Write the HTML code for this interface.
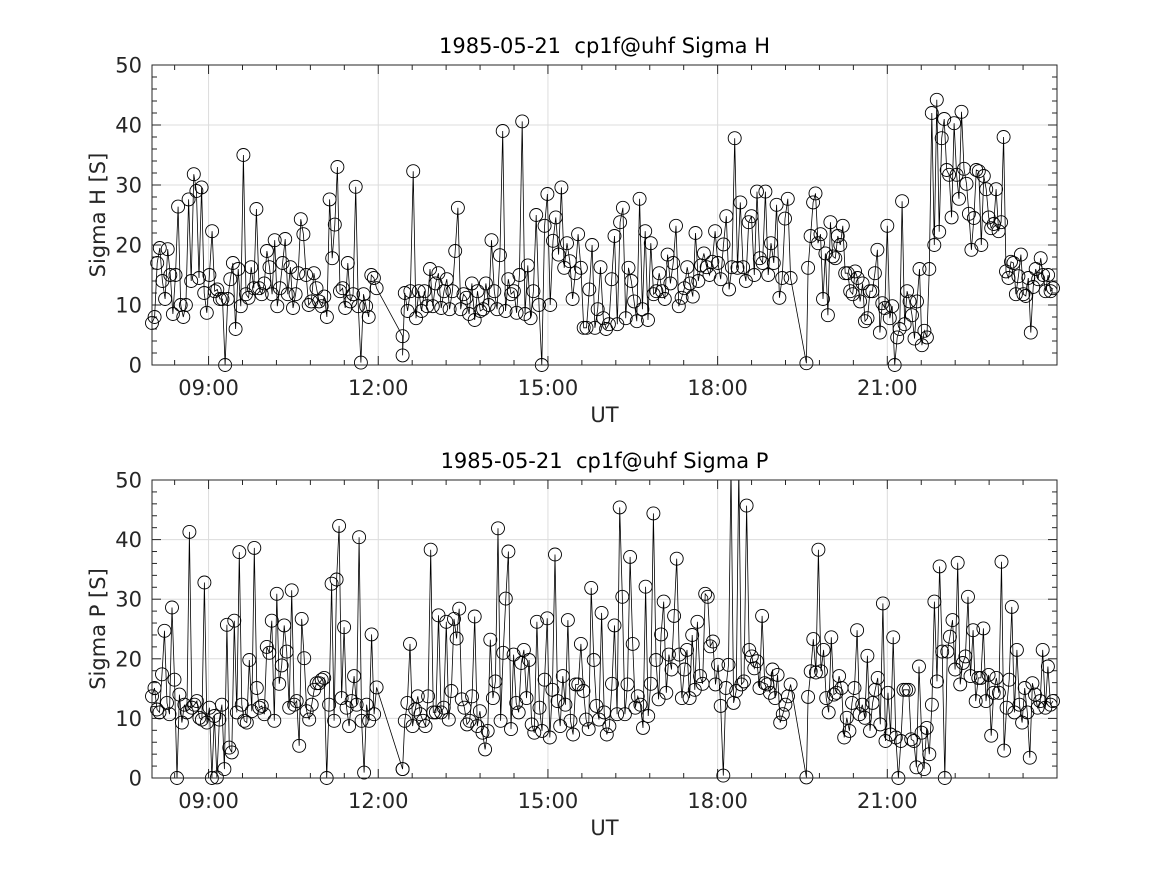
<!DOCTYPE html>
<html><head><meta charset="utf-8"><style>
body{margin:0;background:#fff;}
svg{display:block;font-family:"DejaVu Sans","Liberation Sans",sans-serif;}
</style></head><body>
<svg id="chart" width="1167" height="875" viewBox="0 0 1167 875">
<rect width="1167" height="875" fill="#fff"/>
</svg>
<script>
// ---- data ----
const xTickHours = [9, 12, 15, 18, 21];
const xTickLabels = ["09:00", "12:00", "15:00", "18:00", "21:00"];
const yTickValues = [0, 10, 20, 30, 40, 50];
const titles = ["1985-05-21  cp1f@uhf Sigma H", "1985-05-21  cp1f@uhf Sigma P"];
const yLabels = ["Sigma H [S]", "Sigma P [S]"];
// segment time bounds (hours UT): [start, end]
const hSegA = [8.0, 11.97];
const hSegGap = [12.43, 12.43];
const hSegB = [12.47, 19.29];
const hSegDrop = [19.57, 19.57];
const hSegC = [19.6, 23.93];
const hValsA = [7,8,17,19.5,14,11,19.3,15,8.5,15,26.4,10,8,10,27.6,14,31.8,29,14.5,29.6,12,8.7,15,22.3,12.3,12.6,11,11,0,11,14.3,17,6,16,9.8,35,11.8,11.2,16.3,12.8,26,12.8,11.8,13.6,19,16.3,11.8,20.8,9.8,12.8,17,21,11.8,16.3,9.5,11.8,15.3,24.3,21.8,15,10,10.6,15.3,12.8,10.6,9.8,11.4,8,27.6,17.8,23.4,33,12.3,12.8,9.5,17,10.6,11.8,29.7,9.8,0.4,11.8,9.8,8,15,14.5,12.8];
const hValsGap = [4.8,1.6];
const hValsB = [12,9,12.3,32.3,7.8,12.3,9,12.3,9.8,16,9.8,13.6,15.3,9.5,12.3,14.3,9.3,12.3,19,26.2,9.3,11.8,11.2,8.5,13.6,7.5,12.3,9,9.3,13.6,10,20.8,12.3,9.3,18.3,39,9,14.3,11.8,12.3,8.7,15,40.6,8.5,16.6,7.8,12.3,25,10,0,23.2,28.5,10,20.7,24.6,18.4,29.6,16.2,20.3,17.3,11,15.3,21.8,16.2,6.2,
6.2,12.6,20,6.2,9.3,16.3,7.8,6,6.8,14.3,21.5,6.8,23.8,26.2,7.8,16.2,14,10.6,7.3,27.7,9.3,22.3,7.5,20.3,11.8,12.3,15.3,12.3,11,18.4,13.6,17,23.2,9.8,11.2,12.8,16.3,13.6,11.4,22,14,16.6,18.6,16.3,15,17.2,22.3,17,14.3,20.1,24.8,12.6,16.3,37.8,16.2,27.1,16.3,14,23.8,24.8,15,28.9,17.8,17,28.9,15,20.3,17,26.7,11.2,14.5,24.4,27.7,14.5];
const hValsDrop = [0.3];
const hValsC = [16.2,21.5,27.1,28.6,20.3,21.8,11,18.6,8.3,23.8,18.1,17.8,21.5,20,23.2,15.3,15.3,12.3,11.8,15.6,14.5,10.6,13.6,7.3,7.8,12.3,12.3,15.3,19.2,5.4,10.3,9.5,23.2,7.8,9.8,0,4.6,6,27.3,6.8,12.3,10.6,8.3,4.4,10.6,16,3.3,5.7,4.6,16,42,20,44.2,22.2,37.8,41,32.5,31.7,24.6,40.3,31.7,27.7,42.2,32.7,30.2,25.2,19.2,24.5,32.5,32.3,20,31.5,29.3,24.6,22.8,23.5,29.3,22.3,23.8,38,15.6,14.5,17.2,17,11.8,14.8,18.4,11.8,11.5,14.5,5.4,13,16,14.3,17.8,15,12.3,15,12.3,12.8];
const pValsA = [13.7,15.1,11.5,11,17.4,24.7,12.6,10.7,28.6,16.5,0,14,9.3,12.3,11,41.3,11.8,12.3,12.9,10.1,9.8,32.8,9.3,11.8,0,10.4,0.1,9.8,12.3,1.5,25.7,5.1,4.3,26.4,11,37.9,12.3,9.6,9.3,19.8,11.2,38.6,15.1,11.8,12.1,10.7,22,21,26.4,9.6,30.9,15.8,18.9,25.6,21.2,11.8,31.5,12.3,12.9,5.4,26.7,20.1,11.2,9.8,12.3,14.8,15.9,15.9,16.5,16.8,0,12.3,32.6,9.6,33.3,42.3,13.4,25.3,11.8,8.7,12.9,17.1,12.3,40.4,9.6,0.9,12.3,9.6,24.1,10.7,15.2];
const pValsGap = [1.5,1.5];
const pValsB = [9.6,12.6,22.5,8.7,11.5,13.7,10.7,9.6,8.7,13.7,38.3,11,11,27.3,11,11.8,26.2,9.8,14.6,26.7,23.4,28.4,13.2,11.8,9,9.6,13.7,27.1,8.7,11.2,7.6,4.8,7.9,23.2,13.4,16.2,41.9,9.6,21,30.1,38,8.2,20.7,12.6,11,19.3,21.5,13.4,19.8,9,7.6,26.2,11.8,7.9,16.5,26.8,6.8,14.8,37.5,12.9,8.7,17.1,12.3,26.5,9.6,7.3,15.7,15.7,22.5,14.6,9.8,
8.2,31.9,19.8,12.1,9.8,27.7,11,7.3,8.7,15.8,25.6,10.7,45.4,30.4,10.7,15.7,37.1,22.5,11.8,13.7,12.3,8.4,32.1,10.4,15.8,44.4,19.8,13.2,24.1,29.6,14.3,20.7,18.2,27.2,36.8,20.7,13.4,18.2,21.5,13.4,24,14.8,26.2,17.1,15.8,30.9,30.4,22.1,22.9,15.7,19,12.1,0.4,15.1,19,52,12.6,14.6,52,15.7,16.2,45.7,21.5,20.4,18.4,19.6,15.1,27.2,15.9,15.7,14.3,18.2,13.4,17.3,9.3,10.7,12.3,13.7,15.7];
const pValsDrop = [0.1];
const pValsC = [13.6,17.9,23.3,17.7,38.3,17.9,21.5,13.4,11,23.6,14,14.3,17.1,15.1,6.8,10.1,7.9,12.6,15.1,24.8,10.7,12.3,10.1,20.5,7.9,12.6,14.8,16.8,9,29.3,6.2,14.3,7.3,23.6,6.8,0,6.2,14.8,14.8,14.8,6.5,6.2,1.8,18.7,7.6,1.5,8.4,4,12.3,29.6,16.2,35.5,21.2,0,21.2,23.7,26.5,18.2,36.1,15.7,19.3,20.4,30.4,17.1,24.8,12.9,16.8,16.8,25.1,12.9,17.3,7.1,14.3,16.8,14.3,36.3,4.6,11.8,16.5,28.7,11,21.5,12.3,9.3,15.1,11,3.4,15.9,14,11.8,12.9,21.5,11.8,18.7,12.3,12.9];

const NS = "http://www.w3.org/2000/svg";
const svg = document.getElementById("chart");
function mk(tag, attrs, parent) {
  const e = document.createElementNS(NS, tag);
  for (const k in attrs) e.setAttribute(k, attrs[k]);
  (parent || svg).appendChild(e);
  return e;
}
function buildSeries(segs) {
  const pts = [];
  segs.forEach(([b, vals]) => {
    const n = vals.length;
    vals.forEach((v, i) => {
      const t = n > 1 ? b[0] + (b[1] - b[0]) * i / (n - 1) : b[0];
      pts.push([t, v]);
    });
  });
  return pts;
}
const panels = [
  {top: 65, bottom: 365, key: "sigma-h", title: titles[0], ylab: yLabels[0],
   pts: buildSeries([[hSegA, hValsA], [hSegGap, hValsGap], [hSegB, hValsB], [hSegDrop, hValsDrop], [hSegC, hValsC]])},
  {top: 480, bottom: 778, key: "sigma-p", title: titles[1], ylab: yLabels[1],
   pts: buildSeries([[hSegA, pValsA], [hSegGap, pValsGap], [hSegB, pValsB], [hSegDrop, pValsDrop], [hSegC, pValsC]])}
];
const L = 152, R = 1057, T0 = 8, T1 = 24;
const xs = t => L + (t - T0) / (T1 - T0) * (R - L);

panels.forEach((p, pi) => {
  const ys = v => p.bottom - v / 50 * (p.bottom - p.top);
  const g = mk("g", {});
  
  
  xTickHours.forEach(h => mk("line", {x1: xs(h), x2: xs(h), y1: p.top, y2: p.bottom, stroke: "#dcdcdc", "stroke-width": 1}, g));
  yTickValues.forEach(v => mk("line", {x1: L, x2: R, y1: ys(v), y2: ys(v), stroke: "#dcdcdc", "stroke-width": 1}, g));
  for (let h = 9 - 1.8; h <= 24.001; h += 0.6) {
    if (h < T0 - 0.001) continue;
    const major = Math.abs(h - Math.round(h)) < 0.01 && Math.round(h) % 3 === 0;
    const len = major ? 9 : 5;
    mk("line", {x1: xs(h), x2: xs(h), y1: p.bottom, y2: p.bottom - len, stroke: "#262626", "stroke-width": 1}, g);
    mk("line", {x1: xs(h), x2: xs(h), y1: p.top, y2: p.top + len, stroke: "#262626", "stroke-width": 1}, g);
  }
  for (let v = 0; v <= 50; v += 2) {
    const len = v % 10 === 0 ? 9 : 5;
    mk("line", {x1: L, x2: L + len, y1: ys(v), y2: ys(v), stroke: "#262626", "stroke-width": 1}, g);
    mk("line", {x1: R, x2: R - len, y1: ys(v), y2: ys(v), stroke: "#262626", "stroke-width": 1}, g);
  }
  const cid = "clip" + pi;
  const cp = mk("clipPath", {id: cid}, g);
  mk("rect", {x: L - 8, y: p.top, width: R - L + 16, height: p.bottom - p.top + 10}, cp);
  const dg = mk("g", {"clip-path": "url(#" + cid + ")"}, g);
  const d = p.pts.map((q, i) => (i ? "L" : "M") + xs(q[0]).toFixed(1) + " " + ys(Math.min(q[1], 55)).toFixed(1)).join(" ");
  const line = mk("path", {d: d, fill: "none", stroke: "#000", "stroke-width": 0.8}, dg);
  
  
  p.pts.forEach(q => {
    if (q[1] > 50) return;
    const c = mk("circle", {cx: xs(q[0]).toFixed(1), cy: ys(q[1]).toFixed(1), r: 6.5, fill: "none", stroke: "#000", "stroke-width": 0.9}, dg);
    
    
  });
  mk("rect", {x: L, y: p.top, width: R - L, height: p.bottom - p.top, fill: "none", stroke: "#262626", "stroke-width": 1}, g);
  xTickHours.forEach((h, i) => {
    const t = mk("text", {x: xs(h), y: p.bottom + 30, "text-anchor": "middle", "font-size": 21, fill: "#262626"}, g);
    t.textContent = xTickLabels[i];
    
    
  });
  yTickValues.forEach(v => {
    const t = mk("text", {x: L - 10, y: ys(v) + 7.5, "text-anchor": "end", "font-size": 21, fill: "#262626"}, g);
    t.textContent = v;
    
    
  });
  const xl = mk("text", {x: (L + R) / 2, y: p.bottom + 57, "text-anchor": "middle", "font-size": 21, fill: "#262626"}, g);
  xl.textContent = "UT";
  
  
  const yl = mk("text", {x: 0, y: 0, "text-anchor": "middle", "font-size": 21, fill: "#262626",
    transform: "translate(105," + ((p.top + p.bottom) / 2) + ") rotate(-90)"}, g);
  yl.textContent = p.ylab;
  
  
  const tt = mk("text", {x: (L + R) / 2, y: p.top - 12, "text-anchor": "middle", "font-size": 21, fill: "#000"}, g);
  tt.setAttribute("style", "white-space:pre");
  tt.textContent = p.title;
  
  
});
</script>
</body></html>
